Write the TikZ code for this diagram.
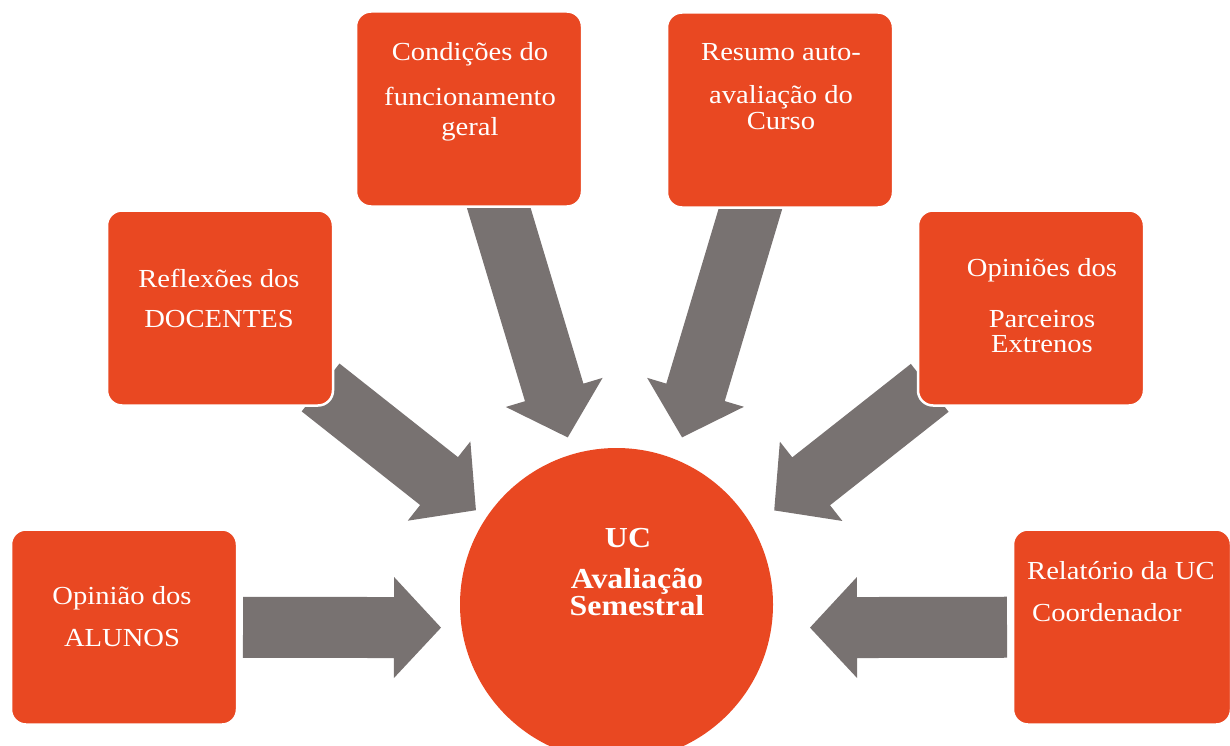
\documentclass[tikz,border=0pt]{standalone}
\usepackage{fontspec}
\setmainfont{Liberation Serif}[FakeStretch=1.1]
\usepackage{xcolor}
\usetikzlibrary{calc,backgrounds}

\definecolor{boxorange}{RGB}{233,72,34}
\definecolor{arrowgray}{RGB}{120,114,113}

% block arrow pointing from a box towards (focus)
\newcommand{\bigarrow}[3]{%
  \coordinate (atip) at ($(focus)!#2!(#1)$);
  \coordinate (atail) at ($(focus)!#3!(#1)$);
  \coordinate (abase) at ($(atip)!47pt!(atail)$);
  \fill[arrowgray] ($(atail)!30.5pt!90:(atip)$) -- ($(abase)!30.5pt!90:(atip)$)
    -- ($(abase)!50.5pt!90:(atip)$) -- (atip) -- ($(abase)!50.5pt!-90:(atip)$)
    -- ($(abase)!30.5pt!-90:(atip)$) -- ($(atail)!30.5pt!-90:(atip)$) -- cycle;
}

\begin{document}
\begin{tikzpicture}[x=1pt,y=-1pt,
  box/.style={rectangle,rounded corners=15pt,fill=boxorange,draw=white,line width=2.5pt,
    minimum width=226pt,minimum height=195pt},
  lbl/.style={text=white,align=center,inner sep=0pt,anchor=base,
    font=\fontsize{26}{40}\selectfont}]
\useasboundingbox (0,0) rectangle (1230,746);
\coordinate (focus) at (625,628);

    \node[box] (alunos) at (124,627) {};
    \node[box] (docentes) at (220,308) {};
    \node[box] (condicoes) at (469,109) {};
    \node[box] (resumo) at (780,110) {};
    \node[box] (parceiros) at (1031,308) {};
    \node[box,minimum width=218pt] (relatorio) at (1122,627) {};
    \node[circle,fill=boxorange,minimum size=313pt,inner sep=0pt] (uc) at (616.5,604.5) {};

    % text anchored at the baseline of its last line
    \node[lbl] (alunos-t) at (122,646) {Opinião dos\\[2pt]ALUNOS};
    \node[lbl] (docentes-t) at (219,327) {Reflexões dos\\DOCENTES};
    \node[lbl] (condicoes-t) at (470,136) {Condições do\\[5pt]funcionamento\\[-10pt]geral};
    \node[lbl] (resumo-t) at (781,130) {Resumo auto-\\[3pt]avaliação do\\[-14pt]Curso};
    \node[lbl] (parceiros-t) at (1042,352) {Opiniões dos\\[11pt]Parceiros\\[-15pt]Extrenos};
    \node[lbl,align=left,anchor=base west] (relatorio-t) at (1027,621)
        {Relatório da UC\\[2pt]\hspace*{5pt}Coordenador};
    \node[lbl,font=\bfseries\fontsize{29}{27}\selectfont] (uc-t) at (637,615)
        {UC\hspace*{18pt}\\[14pt]Avaliação\\Semestral};

\begin{scope}[on background layer]
    \bigarrow{alunos}{184pt}{382pt}
    \bigarrow{relatorio}{185pt}{382pt}
    \bigarrow{docentes}{190pt}{388pt}
    \bigarrow{parceiros}{190pt}{388pt}
    \bigarrow{condicoes}{199pt}{460pt}
    \bigarrow{resumo}{199pt}{460pt}
\end{scope}
\end{tikzpicture}
\end{document}
